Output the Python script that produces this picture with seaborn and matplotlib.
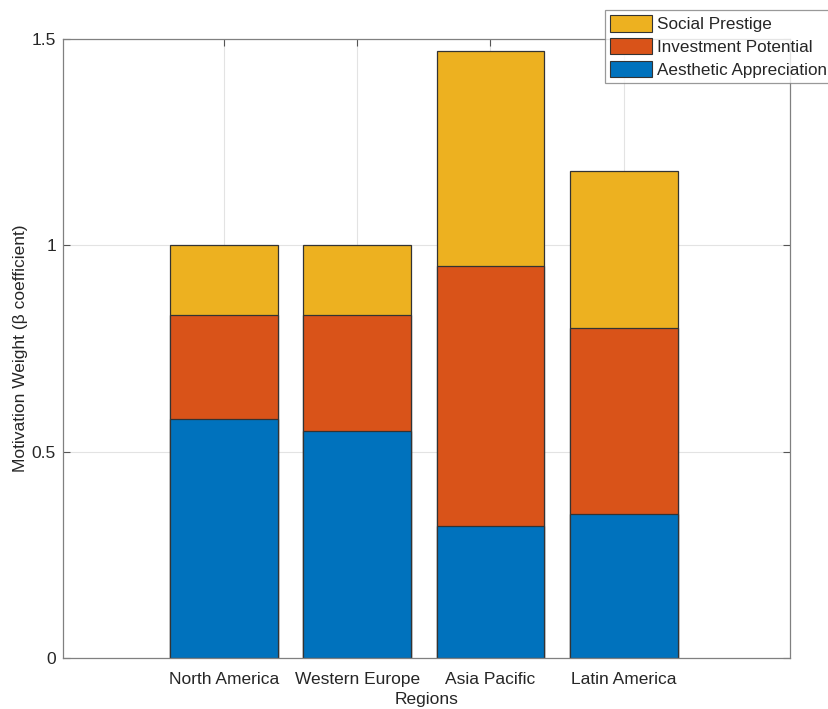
import numpy as np
import matplotlib
matplotlib.use("Agg")
import matplotlib.pyplot as plt
import seaborn as sns
from matplotlib.patches import Patch

# data
regions = ["North America", "Western Europe", "Asia Pacific", "Latin America"]
aesthetic = [0.58, 0.55, 0.32, 0.35]
investment = [0.25, 0.28, 0.63, 0.45]
prestige = [0.17, 0.17, 0.52, 0.38]

series_names = ["Aesthetic Appreciation", "Investment Potential", "Social Prestige"]
colors = ["#0072BD", "#D95319", "#EDB120"]

sns.set_style("white")
plt.rcParams["font.family"] = ["Liberation Sans", "DejaVu Sans"]

fig = plt.figure(figsize=(8.29, 7.09), dpi=100)
ax = fig.add_axes([0.076, 0.072, 0.877, 0.873])

# stacked bars: draw cumulative totals from top layer down
layers = [aesthetic, investment, prestige]
cum = np.cumsum(np.array(layers), axis=0)
for i in range(len(layers) - 1, -1, -1):
    sns.barplot(x=regions, y=cum[i], color=colors[i], width=0.81,
                edgecolor="#333333", linewidth=0.9, saturation=1, ax=ax, zorder=2)

ax.set_xlim(-1.21, 4.25)
ax.set_ylim(0, 1.5)
ax.set_yticks([0, 0.5, 1, 1.5])
ax.set_yticklabels(["0", "0.5", "1", "1.5"])
ax.grid(True, color="#e3e3e3", linewidth=0.8, zorder=0)
ax.set_axisbelow(True)
for s in ax.spines.values():
    s.set_color("#808080")
    s.set_linewidth(0.9)
ax.tick_params(axis="both", direction="in", length=5, color="#555555",
               labelsize=12.5, labelcolor="#262626", left=True, bottom=True,
               top=True, right=True, labeltop=False, labelright=False)
ax.tick_params(axis="x", pad=10)
ax.tick_params(axis="y", pad=5)
ax.set_xlabel("Regions", fontsize=12.5, color="#262626", labelpad=4)
ax.set_ylabel("Motivation Weight (β coefficient)", fontsize=12.5, color="#262626", labelpad=3)

handles = [Patch(facecolor=colors[i], edgecolor="#333333", linewidth=0.8, label=series_names[i])
           for i in [2, 1, 0]]
leg = fig.legend(handles=handles, loc="upper left", bbox_to_anchor=(605 / 829, 1 - 10 / 709),
                 frameon=True, fancybox=False, fontsize=12.3, handlelength=2.45, handleheight=1.1,
                 handletextpad=0.3, borderpad=0.3, labelspacing=0.34, borderaxespad=0)
leg.get_frame().set_edgecolor("#808080")
leg.get_frame().set_linewidth(0.9)

fig.savefig("out.png", dpi=100)
